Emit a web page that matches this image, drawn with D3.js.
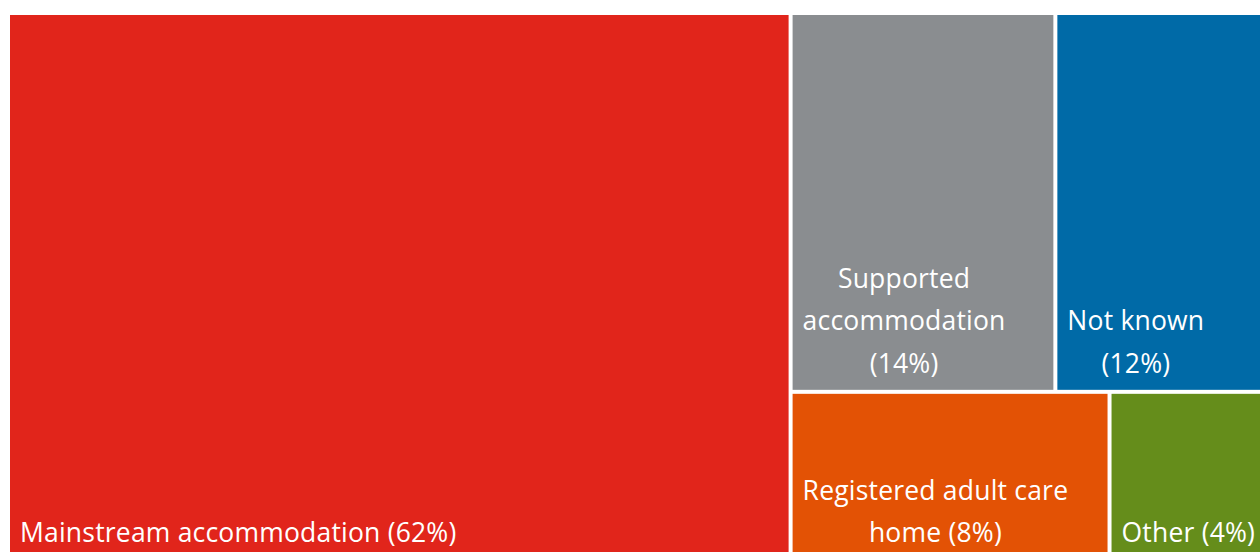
<!DOCTYPE html>
<html>
<head>
<meta charset="utf-8">
<script src="https://cdn.jsdelivr.net/npm/d3@7"></script>
<style>
    html, body { margin: 0; padding: 0; background: #fff; }
    svg { display: block; }
    .label { font-family: "Open Sans", sans-serif; font-size: 26.5px; fill: #fff; letter-spacing: 0.2px; }
</style>
</head>
<body>
<svg id="chart"></svg>
<script>
// Categories, in layout order
const categories = ["Mainstream accommodation", "Supported accommodation", "Not known", "Registered adult care home", "Other"];
// Area shares (labels are rounded)
const shares = [62, 14.5, 11.7, 7.8, 3.9];
const pctLabels = ["62%", "14%", "12%", "8%", "4%"];
// Which block each category sits in
const blocks = ["left", "top", "top", "bottom", "bottom"];
// How each label is broken into lines
const labelLines = [
    ["Mainstream accommodation (62%)"],
    ["Supported", "accommodation", "(14%)"],
    ["Not known", "(12%)"],
    ["Registered adult care", "home (8%)"],
    ["Other (4%)"]
];
const colors = ["#e1251b", "#8a8d90", "#006aa7", "#e35205", "#658d1b"];

const width = 1260, height = 552;
const margin = { top: 15, left: 10 };

// Build the nested tree: left block | (top row / bottom row)
const leaves = categories.map((name, i) => ({ name, value: shares[i], idx: i }));
const tree = {
    children: [
        ...leaves.filter(d => blocks[d.idx] === "left"),
        {
            children: [
                { children: leaves.filter(d => blocks[d.idx] === "top") },
                { children: leaves.filter(d => blocks[d.idx] === "bottom") }
            ]
        }
    ]
};

const root = d3.hierarchy(tree).sum(d => d.value || 0);

d3.treemap()
    .tile(d3.treemapSliceDice)
    .size([1257, 544])
    .paddingInner(4)
    .round(false)(root);

const svg = d3.select("#chart")
    .attr("width", width)
    .attr("height", height);

const g = svg.append("g")
    .attr("transform", `translate(${margin.left}, ${margin.top})`);

const cells = g.selectAll("g.cell")
    .data(root.leaves())
    .enter()
    .append("g")
    .attr("class", "cell");

cells.append("rect")
    .attr("x", d => d.x0)
    .attr("y", d => d.y0)
    .attr("width", d => d.x1 - d.x0)
    .attr("height", d => d.y1 - d.y0)
    .attr("fill", d => colors[d.data.idx]);

// Labels: block sits at bottom-left of the cell, lines centred in the block
const lineHeight = 42.5;
cells.each(function (d) {
    const lines = labelLines[d.data.idx];
    const text = d3.select(this).append("text").attr("class", "label");
    const spans = text.selectAll("tspan")
        .data(lines)
        .enter()
        .append("tspan")
        .text(l => l);
    const maxW = d3.max(spans.nodes(), n => n.getComputedTextLength());
    const cx = d.x0 + 10 + maxW / 2;
    const lastY = d.y1 - 17;
    spans
        .attr("x", cx)
        .attr("y", (l, i) => lastY - (lines.length - 1 - i) * lineHeight)
        .attr("text-anchor", "middle");
});
</script>
</body>
</html>
